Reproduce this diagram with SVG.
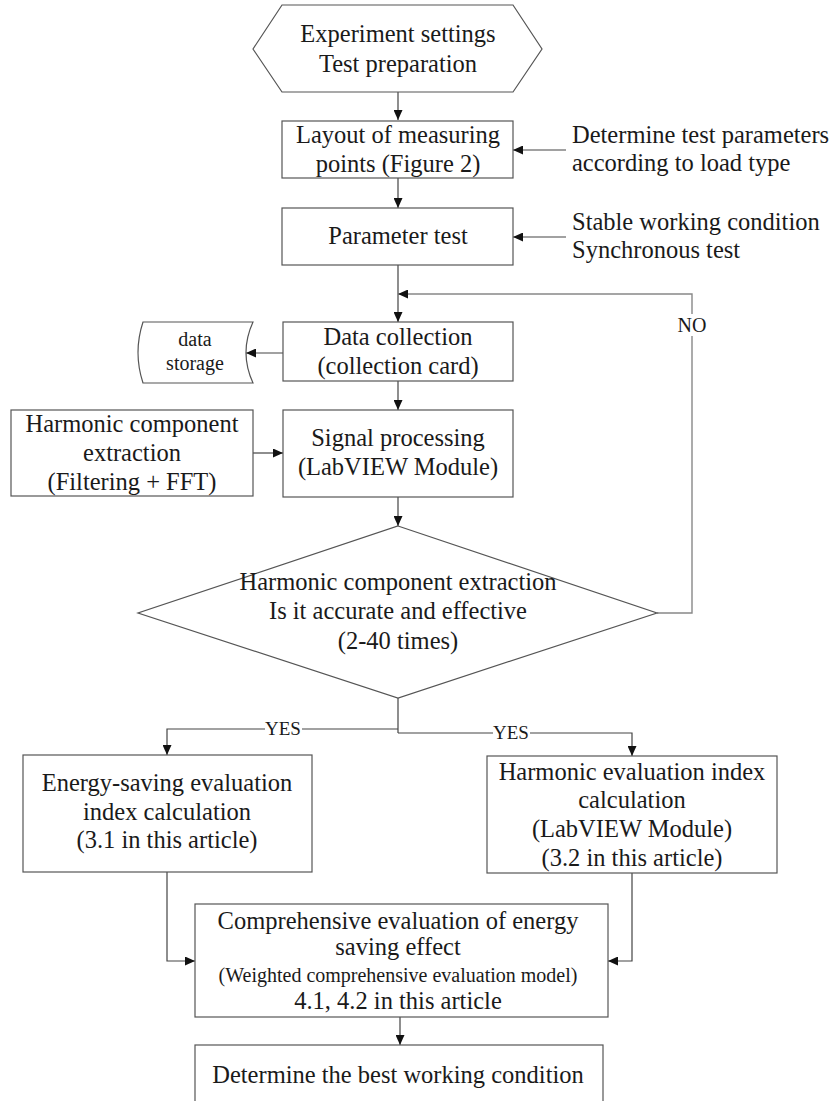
<svg xmlns="http://www.w3.org/2000/svg" width="833" height="1101" viewBox="0 0 833 1101">
<style>
.box{fill:#fff;stroke:#555;stroke-width:1.2}
.ln{fill:none;stroke:#444;stroke-width:1.2}
.lg{fill:none;stroke:#888;stroke-width:1.4}
text{font-family:"Liberation Serif","Times New Roman",serif;fill:#1a1a1a;text-anchor:middle}
.t{font-size:24.5px}
.s{font-size:20px}
.y{font-size:19px}
.l{text-anchor:start}
</style>
<defs>
<marker id="ah" markerUnits="userSpaceOnUse" markerWidth="10" markerHeight="9" refX="10" refY="4.5" orient="auto">
<path d="M0,0 L10,4.5 L0,9 z" fill="#111"/>
</marker>
</defs>
<g id="connectors">
<path class="ln" d="M398,92 V120" marker-end="url(#ah)"/>
<path class="ln" d="M566,150 H513" marker-end="url(#ah)"/>
<path class="ln" d="M398,178 V208" marker-end="url(#ah)"/>
<path class="ln" d="M566,237 H513" marker-end="url(#ah)"/>
<path class="ln" d="M398,265 V322" marker-end="url(#ah)"/>
<path class="lg" d="M657,613 H692 V294 H398" marker-end="url(#ah)"/>
<path class="ln" d="M283,353 H246" marker-end="url(#ah)"/>
<path class="ln" d="M398,381 V410" marker-end="url(#ah)"/>
<path class="ln" d="M253,453 H283" marker-end="url(#ah)"/>
<path class="ln" d="M398,497 V526" marker-end="url(#ah)"/>
<path class="ln" d="M398,698 V733"/>
<path class="ln" d="M398,729 H167 V755" marker-end="url(#ah)"/>
<path class="ln" d="M398,733 H632 V756" marker-end="url(#ah)"/>
<path class="ln" d="M167,872 V961 H195" marker-end="url(#ah)"/>
<path class="ln" d="M632,873 V961 H608" marker-end="url(#ah)"/>
<path class="ln" d="M400,1017 V1045" marker-end="url(#ah)"/>
<rect x="678" y="314" width="28" height="22" fill="#fff"/>
<text class="s" x="692" y="332">NO</text>
<rect x="265" y="720" width="37" height="16" fill="#fff"/>
<text class="y" x="283" y="735">YES</text>
<rect x="493" y="724" width="37" height="16" fill="#fff"/>
<text class="y" x="511" y="739">YES</text>
</g>
<g id="start">
<polygon class="box" points="253,49 282,5 513,5 542,49 513,92 282,92"/>
<text class="t" x="398" y="42">Experiment settings</text>
<text class="t" x="398" y="72">Test preparation</text>
</g>
<g id="layout">
<rect class="box" x="282" y="121" width="231" height="57"/>
<text class="t" x="398" y="143">Layout of measuring</text>
<text class="t" x="398" y="172">points (Figure 2)</text>
</g>
<g id="note1">
<text class="t l" x="572" y="143">Determine test parameters</text>
<text class="t l" x="572" y="171">according to load type</text>
</g>
<g id="paramtest">
<rect class="box" x="282" y="208" width="231" height="57"/>
<text class="t" x="398" y="244">Parameter test</text>
</g>
<g id="note2">
<text class="t l" x="572" y="230">Stable working condition</text>
<text class="t l" x="572" y="258">Synchronous test</text>
</g>
<g id="datacollection">
<rect class="box" x="283" y="322" width="230" height="59"/>
<text class="t" x="398" y="345">Data collection</text>
<text class="t" x="398" y="374">(collection card)</text>
</g>
<g id="datastorage">
<path class="box" d="M143,322 H253 Q239,352.5 253,383 H143 Q133,352.5 143,322 Z"/>
<text class="s" x="195" y="346">data</text>
<text class="s" x="195" y="370">storage</text>
</g>
<g id="harmonicextraction">
<rect class="box" x="11" y="410" width="242" height="86"/>
<text class="t" x="132" y="432">Harmonic component</text>
<text class="t" x="132" y="461">extraction</text>
<text class="t" x="132" y="490">(Filtering + FFT)</text>
</g>
<g id="signal">
<rect class="box" x="283" y="410" width="230" height="87"/>
<text class="t" x="398" y="446">Signal processing</text>
<text class="t" x="398" y="475">(LabVIEW Module)</text>
</g>
<g id="decision">
<polygon class="box" points="398,526 657,613 398,698 138,613"/>
<text class="t" x="398" y="590">Harmonic component extraction</text>
<text class="t" x="398" y="619">Is it accurate and effective</text>
<text class="t" x="398" y="649">(2-40 times)</text>
</g>
<g id="energyindex">
<rect class="box" x="23" y="755" width="289" height="117"/>
<text class="t" x="167" y="791">Energy-saving evaluation</text>
<text class="t" x="167" y="820">index calculation</text>
<text class="t" x="167" y="848">(3.1 in this article)</text>
</g>
<g id="harmonicindex">
<rect class="box" x="487" y="756" width="290" height="117"/>
<text class="t" x="632" y="780">Harmonic evaluation index</text>
<text class="t" x="632" y="808">calculation</text>
<text class="t" x="632" y="837">(LabVIEW Module)</text>
<text class="t" x="632" y="866">(3.2 in this article)</text>
</g>
<g id="comprehensive">
<rect class="box" x="195" y="904" width="413" height="113"/>
<text class="t" x="398" y="929">Comprehensive evaluation of energy</text>
<text class="t" x="398" y="955">saving effect</text>
<text class="s" x="398" y="982">(Weighted comprehensive evaluation model)</text>
<text class="t" x="398" y="1009">4.1, 4.2 in this article</text>
</g>
<g id="best">
<rect class="box" x="195" y="1045" width="408" height="80"/>
<text class="t" x="398" y="1083">Determine the best working condition</text>
</g>
</svg>
